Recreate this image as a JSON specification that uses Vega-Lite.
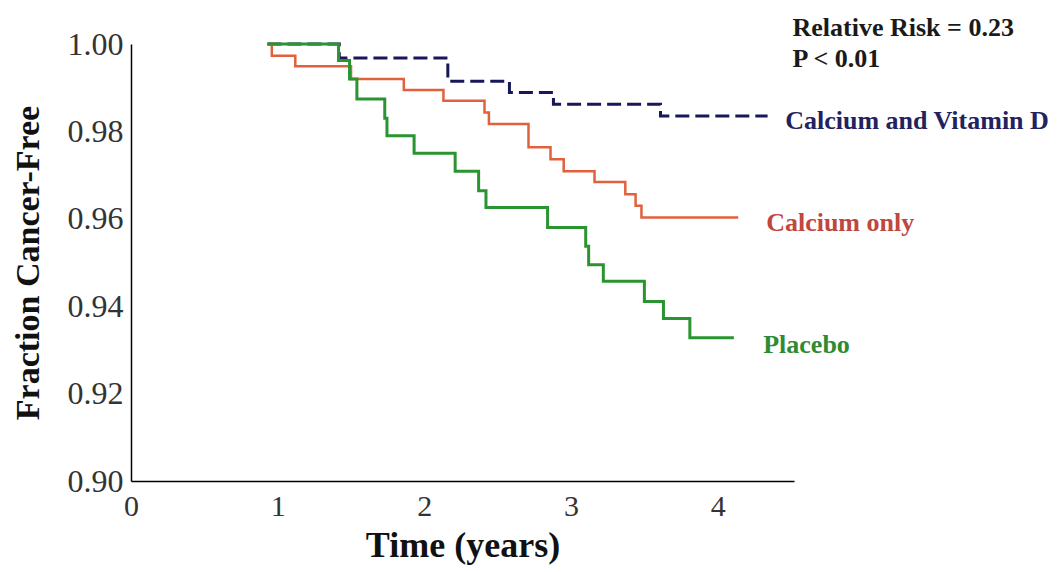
{
  "$schema": "https://vega.github.io/schema/vega-lite/v6.json",
  "width": 663,
  "height": 437,
  "autosize": {"type": "none"},
  "padding": {"left": 131, "top": 44, "right": 263, "bottom": 91},
  "background": "white",
  "config": {"view": {"stroke": null}, "font": "Liberation Serif"},
  "datasets": {
    "curves": [
      {"series": "Calcium and Vitamin D", "x": 0.93, "y": 1.0},
      {"series": "Calcium and Vitamin D", "x": 1.42, "y": 0.9968},
      {"series": "Calcium and Vitamin D", "x": 2.16, "y": 0.9915},
      {"series": "Calcium and Vitamin D", "x": 2.58, "y": 0.9889},
      {"series": "Calcium and Vitamin D", "x": 2.88, "y": 0.9862},
      {"series": "Calcium and Vitamin D", "x": 3.61, "y": 0.9835},
      {"series": "Calcium and Vitamin D", "x": 4.34, "y": 0.9835},
      {"series": "Calcium only", "x": 0.93, "y": 1.0},
      {"series": "Calcium only", "x": 0.96, "y": 0.9973},
      {"series": "Calcium only", "x": 1.12, "y": 0.9949},
      {"series": "Calcium only", "x": 1.50, "y": 0.9920},
      {"series": "Calcium only", "x": 1.86, "y": 0.9895},
      {"series": "Calcium only", "x": 2.13, "y": 0.9870},
      {"series": "Calcium only", "x": 2.41, "y": 0.9843},
      {"series": "Calcium only", "x": 2.44, "y": 0.9817},
      {"series": "Calcium only", "x": 2.71, "y": 0.9764},
      {"series": "Calcium only", "x": 2.86, "y": 0.9736},
      {"series": "Calcium only", "x": 2.95, "y": 0.9709},
      {"series": "Calcium only", "x": 3.16, "y": 0.9684},
      {"series": "Calcium only", "x": 3.37, "y": 0.9656},
      {"series": "Calcium only", "x": 3.44, "y": 0.9630},
      {"series": "Calcium only", "x": 3.48, "y": 0.9603},
      {"series": "Calcium only", "x": 4.14, "y": 0.9603},
      {"series": "Placebo", "x": 0.93, "y": 1.0},
      {"series": "Placebo", "x": 1.415, "y": 0.9962},
      {"series": "Placebo", "x": 1.49, "y": 0.9920},
      {"series": "Placebo", "x": 1.54, "y": 0.9874},
      {"series": "Placebo", "x": 1.73, "y": 0.9830},
      {"series": "Placebo", "x": 1.745, "y": 0.9790},
      {"series": "Placebo", "x": 1.93, "y": 0.9750},
      {"series": "Placebo", "x": 2.21, "y": 0.9709},
      {"series": "Placebo", "x": 2.37, "y": 0.9664},
      {"series": "Placebo", "x": 2.42, "y": 0.9626},
      {"series": "Placebo", "x": 2.84, "y": 0.9580},
      {"series": "Placebo", "x": 3.10, "y": 0.9537},
      {"series": "Placebo", "x": 3.12, "y": 0.9495},
      {"series": "Placebo", "x": 3.22, "y": 0.9457},
      {"series": "Placebo", "x": 3.50, "y": 0.9411},
      {"series": "Placebo", "x": 3.63, "y": 0.9372},
      {"series": "Placebo", "x": 3.81, "y": 0.9328},
      {"series": "Placebo", "x": 4.11, "y": 0.9328}
    ],
    "labels": [
      {"label": "Relative Risk = 0.23", "x": 4.51, "y": 1.0018},
      {"label": "P < 0.01", "x": 4.51, "y": 0.9947},
      {"label": "Calcium and Vitamin D", "x": 4.46, "y": 0.9805},
      {"label": "Calcium only", "x": 4.33, "y": 0.9573},
      {"label": "Placebo", "x": 4.31, "y": 0.9294}
    ]
  },
  "encoding": {
    "x": {
      "field": "x",
      "type": "quantitative",
      "scale": {"domain": [0, 4.52], "nice": false, "zero": false},
      "axis": {
        "values": [0, 1, 2, 3, 4],
        "format": "d",
        "ticks": false,
        "grid": false,
        "domainColor": "#000000",
        "domainWidth": 1.5,
        "labelFont": "Liberation Serif",
        "labelFontSize": 30,
        "labelColor": "#333333",
        "labelPadding": 10,
        "labelFlush": false,
        "title": "Time (years)",
        "titleFont": "Liberation Serif",
        "titleFontSize": 36,
        "titleFontWeight": "bold",
        "titleColor": "#111111",
        "titlePadding": 7
      }
    },
    "y": {
      "field": "y",
      "type": "quantitative",
      "scale": {"domain": [0.9, 1.0], "nice": false, "zero": false},
      "axis": {
        "values": [0.9, 0.92, 0.94, 0.96, 0.98, 1.0],
        "format": ".2f",
        "ticks": false,
        "grid": false,
        "domainColor": "#000000",
        "domainWidth": 1.5,
        "labelFont": "Liberation Serif",
        "labelFontSize": 32,
        "labelColor": "#333333",
        "labelPadding": 8,
        "labelFlush": false,
        "title": "Fraction Cancer-Free",
        "titleFont": "Liberation Serif",
        "titleFontSize": 34,
        "titleFontWeight": "bold",
        "titleColor": "#111111",
        "titlePadding": 22
      }
    }
  },
  "layer": [
    {
      "transform": [{"filter": "datum.series === 'Calcium and Vitamin D'"}],
      "data": {"name": "curves"},
      "mark": {"type": "line", "interpolate": "step-after", "color": "#17175a", "strokeWidth": 3, "strokeDash": [14, 6]}
    },
    {
      "transform": [{"filter": "datum.series === 'Calcium only'"}],
      "data": {"name": "curves"},
      "mark": {"type": "line", "interpolate": "step-after", "color": "#e2603c", "strokeWidth": 2.5}
    },
    {
      "transform": [{"filter": "datum.series === 'Placebo'"}],
      "data": {"name": "curves"},
      "mark": {"type": "line", "interpolate": "step-after", "color": "#2a9430", "strokeWidth": 3}
    },
    {
      "data": {"name": "labels"},
      "mark": {"type": "text", "align": "left", "baseline": "alphabetic", "fontSize": 26, "fontWeight": "bold", "font": "Liberation Serif"},
      "encoding": {
        "text": {"field": "label", "type": "nominal"},
        "color": {
          "field": "label",
          "type": "nominal",
          "scale": {
            "domain": ["Relative Risk = 0.23", "P < 0.01", "Calcium and Vitamin D", "Calcium only", "Placebo"],
            "range": ["#1a1a1a", "#1a1a1a", "#222260", "#c0473f", "#2f8a33"]
          },
          "legend": null
        }
      }
    }
  ]
}
